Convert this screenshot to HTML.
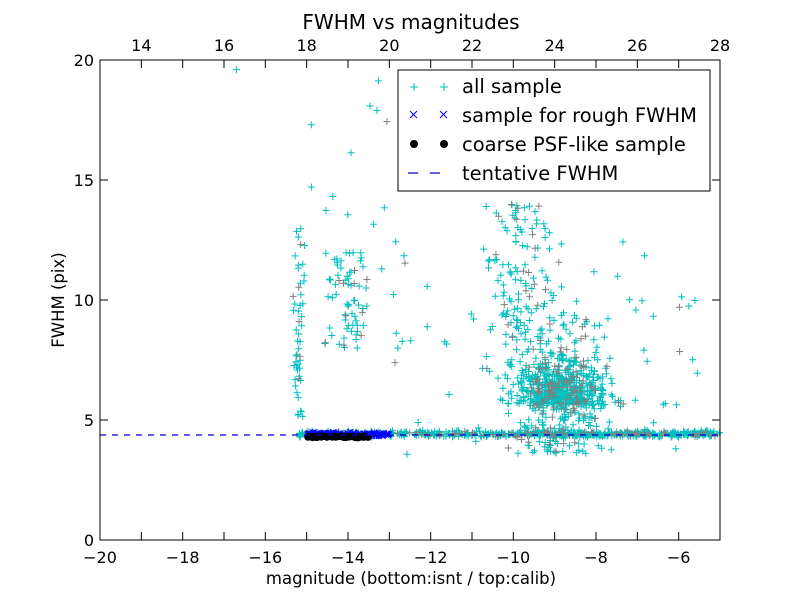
<!DOCTYPE html>
<html><head><meta charset="utf-8"><style>
body{margin:0;background:#fff;}
svg text{font-family:"DejaVu Sans","Liberation Sans",sans-serif;}
</style></head><body>
<svg id="s" width="800" height="600" xmlns="http://www.w3.org/2000/svg">
<rect width="800" height="600" fill="#fff"/>
<g id="pts"></g>
<line x1="100" y1="435" x2="720" y2="435" stroke="#0000bf" stroke-width="1.2" stroke-dasharray="6,6"/>
<rect x="100" y="60" width="620" height="480" fill="none" stroke="#000" stroke-width="1"/>
<g id="ticks" stroke="#000" stroke-width="1"></g>
<g font-size="16" fill="#000" id="lbl"></g>
<text x="411" y="29" font-size="20" text-anchor="middle">FWHM vs magnitudes</text>
<text x="411" y="584" font-size="16.5" text-anchor="middle">magnitude (bottom:isnt / top:calib)</text>
<text x="64" y="300" font-size="16.5" text-anchor="middle" transform="rotate(-90 64 300)">FWHM (pix)</text>
<rect x="398" y="70" width="312" height="121" fill="#fff" stroke="#000"/>
<g stroke="#00bfbf" stroke-width="1">
<path d="M410 87h8M414 83v8M440 87h8M444 83v8"/></g>
<g stroke="#0000ff" stroke-width="1"><path d="M410 111l7 7M417 111l-7 7M440 111l7 7M447 111l-7 7"/></g>
<circle cx="414" cy="144" r="4" fill="#000"/><circle cx="444" cy="144" r="4" fill="#000"/>
<path d="M408 173h10M430 173h10" stroke="#0000bf" stroke-width="1.2"/>
<g font-size="19.5"><text x="462" y="93">all sample</text><text x="462" y="122">sample for rough FWHM</text>
<text x="462" y="151">coarse PSF-like sample</text><text x="462" y="180">tentative FWHM</text></g>
</svg>
<script>
var X=v=>100+(v+20)*620/15, Y=v=>540-v*24, T=v=>100+(v-13)*620/15;
var seed=12345;function r(){seed=(seed*1103515245+12345)%2147483648;return seed/2147483648;}
function g(){return (r()+r()+r()+r()-2)*0.87;}
var d1="",d2="",d3="",dots="";
function plus(x,y,gray){var px=X(x),py=Y(y);if(px<100||px>720||py<60||py>540)return;var s="M"+(px-3.5).toFixed(1)+" "+py.toFixed(1)+"h7M"+px.toFixed(1)+" "+(py-3.5).toFixed(1)+"v7";if(gray)d2+=s;else d1+=s;}
function P(x,y){plus(x,y,r()<0.12);}
for(var i=0;i<600;i++){P(-15.2+r()*10.2,4.42+g()*0.12);}
for(var i=0;i<700;i++){var x=-8.8+g()*1.1,y=5.6+Math.abs(g())*1.8*(r()<0.7?1:2.2);if(r()<0.3)y=3.6+r()*3.4;P(x,y);}
for(var i=0;i<150;i++){P(-9.8+g()*0.8,6+r()*8);}
for(var i=0;i<50;i++){P(-15.2+g()*0.12,5+r()*8);}
for(var i=0;i<70;i++){P(-14+g()*0.6,8+r()*4);}
for(var i=0;i<80;i++){P(-13+r()*7.5,3.5+r()*9);}
for(var i=0;i<12;i++){P(-15+r()*2,13+r()*7);}
P(-16.7,19.6);
for(var i=0;i<120;i++){var x=-15+r()*2.0,y=4.4+g()*0.07,px=X(x),py=Y(y);d3+="M"+(px-3)+" "+(py-3)+"l6 6M"+(px+3)+" "+(py-3)+"l-6 6";}
for(var i=0;i<70;i++){var x=-15+r()*1.5,y=4.3+g()*0.04;dots+='<circle cx="'+X(x).toFixed(1)+'" cy="'+Y(y).toFixed(1)+'" r="3.5"/>';}
document.getElementById("pts").innerHTML='<path d="'+d1+'" stroke="#00bfbf" stroke-width="1" fill="none"/><path d="'+d2+'" stroke="#808080" stroke-width="1" fill="none"/><path d="'+d3+'" stroke="#0000ff" stroke-width="1" fill="none"/><g fill="#000">'+dots+'</g>';
var t="",l="";
for(var v=-20;v<=-6;v+=2){var x=X(v);t+='<path d="M'+x+' 540v-8M'+x+' 60v8"/>';l+='<text x="'+x+'" y="563" text-anchor="middle">\u2212'+(-v)+'</text>';}
for(var v=14;v<=28;v+=2){var x=T(v);t+='<path d="M'+x+' 60v8M'+x+' 540v-8"/>';l+='<text x="'+x+'" y="51" text-anchor="middle">'+v+'</text>';}
for(var v=0;v<=20;v+=5){var y=Y(v);t+='<path d="M100 '+y+'h8M720 '+y+'h-8"/>';l+='<text x="94" y="'+(y+6)+'" text-anchor="end">'+v+'</text>';}
document.getElementById("ticks").innerHTML=t;document.getElementById("lbl").innerHTML=l;
</script>
</body></html>
